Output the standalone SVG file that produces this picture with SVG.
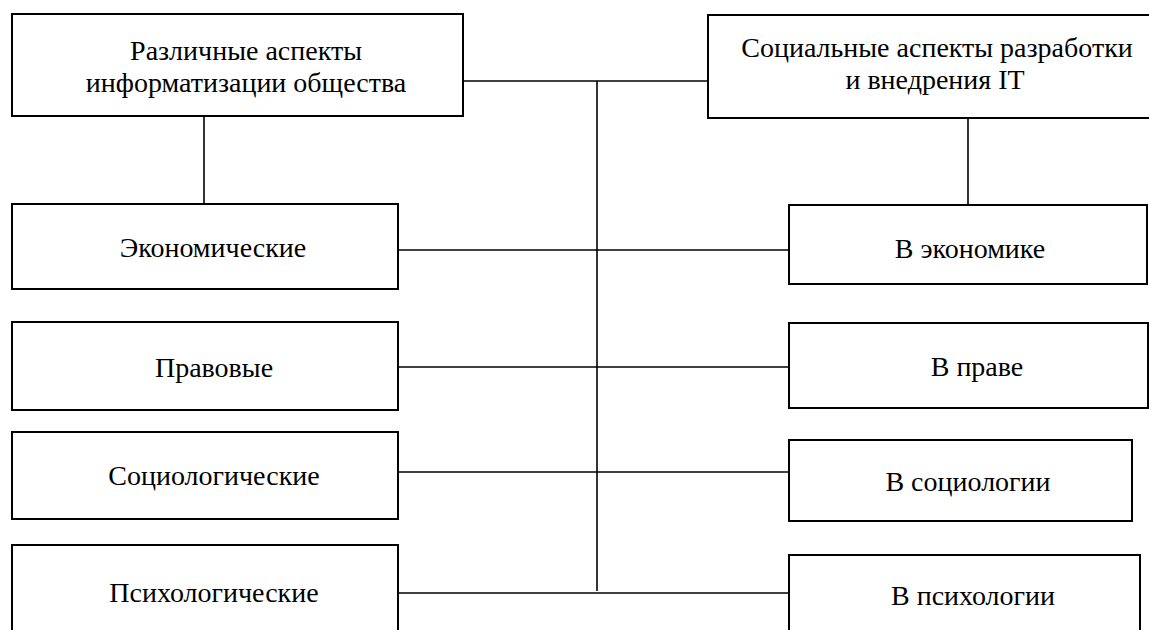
<svg xmlns="http://www.w3.org/2000/svg" width="1149" height="630" viewBox="0 0 1149 630">
<style>
rect{fill:#fff;stroke:#000;stroke-width:2}
.c line{stroke:#000;stroke-width:1.6}
text{font-size:28px;fill:#000;text-anchor:middle}
</style>
<rect x="0" y="0" width="1149" height="630" style="stroke:none"/>
<g class="c" id="connectors">
<line x1="463" y1="81" x2="708" y2="81"/>
<line x1="597" y1="81" x2="597" y2="591"/>
<line x1="204" y1="116" x2="204" y2="204"/>
<line x1="968" y1="118" x2="968" y2="205"/>
<line x1="398" y1="250" x2="789" y2="250"/>
<line x1="398" y1="367" x2="789" y2="367"/>
<line x1="398" y1="472" x2="789" y2="472"/>
<line x1="398" y1="593" x2="789" y2="593"/>
</g>
<g font-family="Liberation Serif, DejaVu Serif, serif">
<g id="n1"><rect x="12" y="14" width="451" height="102"/><text x="246" y="60">Различные аспекты</text><text x="246" y="92">информатизации общества</text></g>
<g id="n2"><rect x="708" y="15" width="460" height="103"/><text x="937" y="57">Социальные аспекты разработки</text><text x="935" y="89">и внедрения IT</text></g>
<g id="n3"><rect x="12" y="204" width="386" height="85"/><text x="213" y="257">Экономические</text></g>
<g id="n4"><rect x="12" y="322" width="386" height="88"/><text x="214" y="377">Правовые</text></g>
<g id="n5"><rect x="12" y="432" width="386" height="87"/><text x="214" y="485">Социологические</text></g>
<g id="n6"><rect x="12" y="545" width="386" height="100"/><text x="214" y="602">Психологические</text></g>
<g id="n7"><rect x="789" y="205" width="358" height="79"/><text x="970" y="258">В экономике</text></g>
<g id="n8"><rect x="789" y="323" width="359" height="85"/><text x="977" y="376">В праве</text></g>
<g id="n9"><rect x="789" y="440" width="343" height="81"/><text x="968" y="491">В социологии</text></g>
<g id="n10"><rect x="789" y="555" width="351" height="90"/><text x="973" y="605">В психологии</text></g>
</g>
</svg>
